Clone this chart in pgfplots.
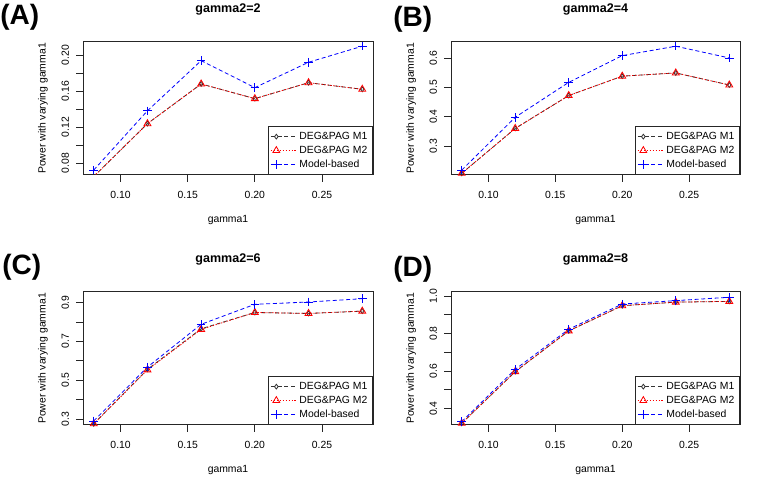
\documentclass[border=0pt]{standalone}
\usepackage{fontspec}
\setmainfont{Liberation Sans}
\usepackage{pgfplots}
\pgfplotsset{compat=1.18}

\pgfplotsset{
  panel/.style={
    scale only axis, width=217.5pt, height=99.75pt,
    xmin=0.072, xmax=0.288,
    xtick={0.10,0.15,0.20,0.25}, xticklabels={0.10,0.15,0.20,0.25},
    tick align=outside, xtick pos=bottom, ytick pos=left,
    major tick length=5pt, minor tick length=5pt,
    tick style={black!85, line width=0.6pt},
    axis line style={black!85, line width=0.75pt},
    ticklabel style={font=\fontsize{7.8}{9}\selectfont},
    xticklabel shift=4pt, yticklabel shift=2pt,
    yticklabel style={rotate=90, anchor=south},
    xlabel=gamma1, ylabel=Power with varying gamma1,
    label style={font=\fontsize{7.8}{9}\selectfont},
    xlabel style={at={(axis description cs:0.5,-0.338)}, anchor=center},
    ylabel style={at={(axis description cs:-0.138,0.5)}, anchor=center},
    title style={at={(axis description cs:0.5,1.188)}, anchor=center,
      font=\bfseries\fontsize{9.4}{11}\selectfont},
    legend style={at={(1,0)}, anchor=south east, draw=black!85,
      font=\fontsize{7.8}{9.4}\selectfont, inner sep=2pt, row sep=-0.5pt},
    legend cell align=left,
    legend image code/.code={
      \draw[mark repeat=2, mark phase=2] plot coordinates {(0pt,0pt)(4pt,0pt)(8pt,0pt)};
      \path (0pt,0pt) -- (19pt,0pt);},
  },
  m1/.style={black!80, line width=0.6pt, dash pattern=on 3pt off 2pt,
    mark=diamond, mark size=1.8pt, mark options={solid, draw=black!80}},
  m2/.style={red, line width=0.6pt, dash pattern=on 1pt off 1.2pt,
    mark=triangle, mark size=3pt, mark options={solid, draw=red}},
  mb/.style={blue, line width=0.6pt, dash pattern=on 3pt off 2pt,
    mark=+, mark size=3.2pt, mark options={solid, draw=blue}},
}

\begin{document}
\begin{tikzpicture}
\useasboundingbox (0pt,0pt) rectangle (568.5pt,371.25pt);

% (A)
\begin{axis}[panel, at={(62.25pt,240pt)}, anchor=south west,
  title={gamma2=2}, ymin=0.0667, ymax=0.2144,
  ytick={0.08,0.12,0.16,0.20}, yticklabels={0.08,0.12,0.16,0.20},
  minor ytick={0.10,0.14,0.18}]
\addplot[m1] coordinates {(0.08,0.065)(0.12,0.1237)(0.16,0.1678)(0.20,0.1515)(0.24,0.1692)(0.28,0.1619)};
\addplot[m2] coordinates {(0.08,0.065)(0.12,0.1237)(0.16,0.1678)(0.20,0.1515)(0.24,0.1692)(0.28,0.1619)};
\addplot[mb] coordinates {(0.08,0.0722)(0.12,0.138)(0.16,0.1937)(0.20,0.1637)(0.24,0.1919)(0.28,0.2097)};
\legend{DEG\&PAG M1,DEG\&PAG M2,Model-based}
\end{axis}

% (B)
\begin{axis}[panel, at={(338.25pt,240pt)}, anchor=south west, width=216.75pt,
  title={gamma2=4}, ymin=0.2014, ymax=0.6544,
  ytick={0.3,0.4,0.5,0.6}, yticklabels={0.3,0.4,0.5,0.6}]
\addplot[m1] coordinates {(0.08,0.207)(0.12,0.360)(0.16,0.472)(0.20,0.538)(0.24,0.549)(0.28,0.508)};
\addplot[m2] coordinates {(0.08,0.207)(0.12,0.360)(0.16,0.472)(0.20,0.538)(0.24,0.549)(0.28,0.508)};
\addplot[mb] coordinates {(0.08,0.218)(0.12,0.398)(0.16,0.517)(0.20,0.608)(0.24,0.640)(0.28,0.600)};
\legend{DEG\&PAG M1,DEG\&PAG M2,Model-based}
\end{axis}

% (C)
\begin{axis}[panel, at={(62.25pt,52.5pt)}, anchor=south west,
  title={gamma2=6}, ymin=0.269, ymax=0.9546,
  ytick={0.3,0.5,0.7,0.9}, yticklabels={0.3,0.5,0.7,0.9},
  minor ytick={0.4,0.6,0.8}]
\addplot[m1] coordinates {(0.08,0.275)(0.12,0.556)(0.16,0.765)(0.20,0.849)(0.24,0.844)(0.28,0.856)};
\addplot[m2] coordinates {(0.08,0.275)(0.12,0.553)(0.16,0.762)(0.20,0.849)(0.24,0.844)(0.28,0.856)};
\addplot[mb] coordinates {(0.08,0.29)(0.12,0.5675)(0.16,0.788)(0.20,0.891)(0.24,0.903)(0.28,0.920)};
\legend{DEG\&PAG M1,DEG\&PAG M2,Model-based}
\end{axis}

% (D)
\begin{axis}[panel, at={(338.25pt,52.5pt)}, anchor=south west, width=216.75pt,
  title={gamma2=8}, ymin=0.313, ymax=1.021,
  ytick={0.4,0.6,0.8,1.0}, yticklabels={0.4,0.6,0.8,1.0},
  minor ytick={0.5,0.7,0.9}]
\addplot[m1] coordinates {(0.08,0.322)(0.12,0.597)(0.16,0.814)(0.20,0.948)(0.24,0.967)(0.28,0.971)};
\addplot[m2] coordinates {(0.08,0.322)(0.12,0.597)(0.16,0.814)(0.20,0.948)(0.24,0.967)(0.28,0.971)};
\addplot[mb] coordinates {(0.08,0.331)(0.12,0.609)(0.16,0.823)(0.20,0.957)(0.24,0.975)(0.28,0.993)};
\legend{DEG\&PAG M1,DEG\&PAG M2,Model-based}
\end{axis}

\begin{scope}[every node/.style={anchor=base west, inner sep=0pt,
    font=\bfseries\fontsize{21}{24}\selectfont}]
\node at (0pt,352.5pt) {(A)};
\node at (294.75pt,351pt) {(B)};
\node at (1.5pt,165pt) {(C)};
\node at (294.75pt,163.5pt) {(D)};
\end{scope}
\end{tikzpicture}
\end{document}
